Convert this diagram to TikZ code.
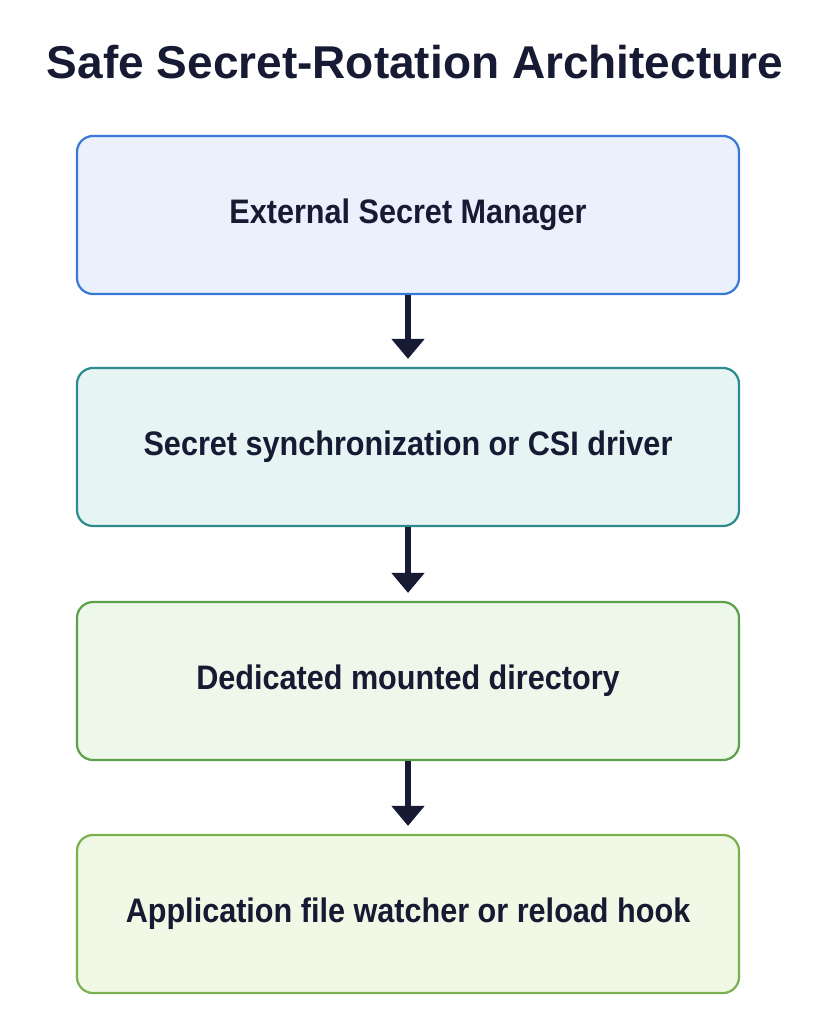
\documentclass[tikz,border=0pt]{standalone}
\usepackage{fontspec}
\setmainfont{Liberation Sans}
\usetikzlibrary{arrows.meta}
\definecolor{ink}{HTML}{161A33}
\begin{document}
\begin{tikzpicture}[x=1pt,y=-1pt,
  box/.style={rounded corners=16pt,line width=2.2pt,minimum width=662pt,minimum height=158pt,font=\fontsize{34}{40}\selectfont\bfseries,text=ink},
  arr/.style={line width=5.5pt,ink,-{Triangle[length=20pt,width=32pt]}}]
\useasboundingbox[fill=white] (0,0) rectangle (819,1024);
\node[font=\fontsize{46}{52}\selectfont\bfseries,text=ink] (t) at (415,62) {Safe Secret-Rotation Architecture};
\node[box,draw={rgb,255:red,58;green,120;blue,216},fill={rgb,255:red,234;green,240;blue,252}] (a) at (408,215) {\scalebox{0.9}[1]{External Secret Manager}};
\node[box,draw={rgb,255:red,42;green,140;blue,140},fill={rgb,255:red,230;green,244;blue,244}] (b) at (408,447) {\scalebox{0.9}[1]{Secret synchronization or CSI driver}};
\node[box,draw={rgb,255:red,92;green,160;blue,76},fill={rgb,255:red,237;green,247;blue,234}] (c) at (408,681) {\scalebox{0.9}[1]{Dedicated mounted directory}};
\node[box,draw={rgb,255:red,122;green,176;blue,80},fill={rgb,255:red,241;green,249;blue,230}] (d) at (408,914) {\scalebox{0.9}[1]{Application file watcher or reload hook}};
\draw[arr] (a.south) -- ([yshift=8pt]b.north);
\draw[arr] (b.south) -- ([yshift=8pt]c.north);
\draw[arr] (c.south) -- ([yshift=8pt]d.north);
\end{tikzpicture}
\end{document}
